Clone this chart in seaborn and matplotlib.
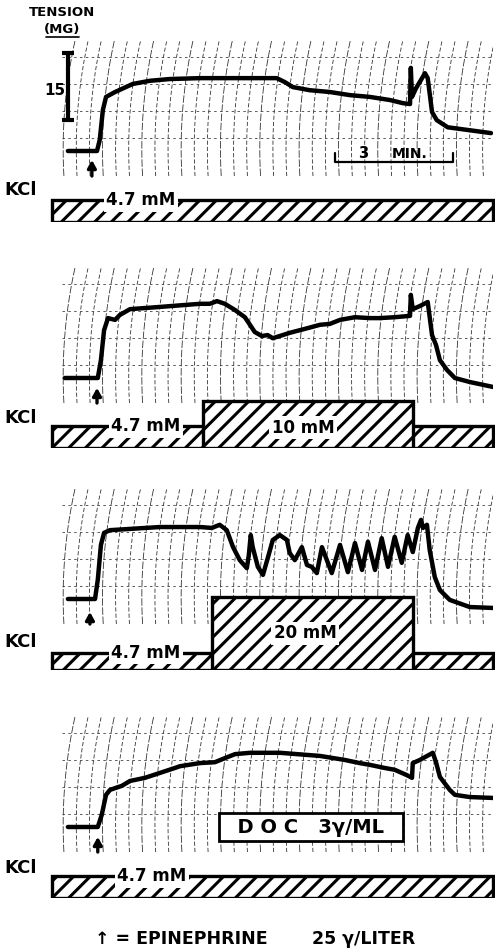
import numpy as np
import matplotlib
matplotlib.use('Agg')
import matplotlib.pyplot as plt
import seaborn as sns
from matplotlib.lines import Line2D

# time in minutes from the start of each record, tension in mg above resting level
time_1 = [0, 0.74, 0.81, 0.89, 0.97, 1.20, 1.65, 2.08, 2.59, 3.36, 4.37, 5.31, 5.52, 5.72, 6.15, 6.66,
          7.17, 7.68, 8.19, 8.52, 8.70, 8.72, 8.75, 8.85, 9.08, 9.15, 9.26, 9.38, 9.66, 10.17, 10.76]
tension_1 = [0, 0, 2.5, 9.2, 12.1, 13.2, 15.0, 15.7, 16.1, 16.3, 16.3, 16.3, 15.4, 14.3, 13.6, 13.2,
             12.5, 12.1, 11.4, 10.7, 10.5, 18.6, 12.1, 14.0, 17.4, 16.3, 8.7, 6.9, 5.3, 4.7, 4.0]

time_2 = [-0.08, 0.76, 0.84, 0.92, 1.02, 1.20, 1.32, 1.58, 2.34, 3.36, 3.61, 3.79, 3.99, 4.25, 4.50,
          4.63, 4.75, 4.93, 5.08, 5.21, 5.39, 5.64, 6.03, 6.41, 6.66, 6.92, 7.30, 7.68, 7.93, 8.31,
          8.70, 8.72, 8.77, 8.95, 9.15, 9.26, 9.36, 9.46, 9.64, 9.84, 10.22, 10.81]
tension_2 = [0, 0, 4.0, 10.7, 13.4, 13.0, 14.1, 15.4, 15.9, 16.6, 16.6, 17.2, 16.6, 15.2, 13.6,
             11.9, 10.3, 9.4, 9.6, 8.9, 9.4, 10.1, 11.0, 11.9, 12.1, 13.0, 13.6, 13.4, 13.4, 13.6,
             13.9, 18.6, 15.4, 16.1, 17.0, 9.6, 7.4, 4.0, 1.8, 0, -0.9, -2.0]

time_3 = [0, 0.69, 0.76, 0.84, 0.92, 1.07, 2.34, 3.36, 3.66, 3.86, 4.04, 4.20, 4.37, 4.55, 4.60,
          4.65, 4.70, 4.83, 4.96, 5.09, 5.21, 5.39, 5.57, 5.64, 5.77, 5.95, 6.08, 6.20, 6.33, 6.46,
          6.71, 6.92, 7.12, 7.30, 7.48, 7.63, 7.81, 7.98, 8.14, 8.31, 8.49, 8.64, 8.77, 8.90, 8.98,
          9.03, 9.13, 9.20, 9.33, 9.46, 9.71, 10.22, 10.81]
tension_3 = [0, 0, 4.3, 12.1, 14.8, 15.4, 16.1, 16.1, 15.9, 16.6, 15.4, 11.6, 8.7, 6.9, 9.8,
             14.3, 11.6, 7.2, 5.4, 9.4, 13.2, 14.3, 13.2, 10.3, 8.7, 11.6, 7.6, 7.2, 5.8, 11.6,
             5.8, 12.1, 6.0, 12.5, 6.5, 12.8, 6.5, 13.6, 7.2, 13.9, 8.1, 14.3, 10.5, 15.9, 17.7,
             15.9, 16.6, 11.0, 4.9, 2.0, -0.2, -1.8, -2.0]

time_4 = [0, 0.76, 0.86, 0.97, 1.07, 1.20, 1.37, 1.58, 1.96, 2.34, 2.72, 2.85, 3.36, 3.74, 3.99,
          4.25, 4.63, 5.39, 6.41, 7.04, 7.42, 7.68, 8.06, 8.31, 8.62, 8.75, 8.77, 8.95, 9.28, 9.36,
          9.46, 9.71, 9.84, 10.22, 10.81]
tension_4 = [0, 0, 2.7, 7.2, 8.3, 8.7, 9.2, 10.3, 11.0, 12.1, 13.2, 13.6, 14.3, 14.5, 15.4,
             16.3, 16.6, 16.6, 15.9, 15.0, 14.3, 13.9, 13.2, 12.8, 11.6, 11.0, 14.3, 15.0, 16.6, 14.5,
             11.2, 8.3, 7.2, 6.7, 6.5]

times = [time_1, time_2, time_3, time_4]
tensions = [tension_1, tension_2, tension_3, tension_4]

# epinephrine arrows (minutes, arrow tip in mg)
epi_time = [0.61, 0.74, 0.56, 0.76]
epi_tip = [-2.0, -2.2, -2.9, -2.2]

# KCl in the bath (mM)
kcl_base = 4.7
kcl_start, kcl_end = -0.41, 10.81
block_conc = [None, 10, 20, None]
block_start = [None, 3.43, 3.66, None]
block_end = [None, 8.77, 8.77, None]
base_label_t = [1.86, 1.98, 1.98, 2.14]
block_label = [None, '10 mM', '20 mM', None]
block_label_t = [None, 5.98, 6.03, None]
block_label_y = [None, 4.3, 10.1, None]

# calibration
scale_mg = 15
scale_mid = 14.4
time_bar_start = 6.79
time_bar_len = 3

# page layout (pixels)
W, H = 497, 950
PX_MIN = 39.33
PX_MG = 4.47
base_px = [151, 378, 599, 827]
kcl_bottom_px = [222, 448, 670, 898]
kcl_px_per_mm = [4.68, 4.68, 3.65, 4.68]
T_LIM = (-0.15, 10.81)
MG_LIM = (-5.6, 24.8)

sns.set_style('white')
plt.rcParams['font.family'] = ['DejaVu Sans']
plt.rcParams['text.color'] = 'black'
plt.rcParams['hatch.linewidth'] = 2.2
plt.rcParams['hatch.color'] = 'black'


def px_axes(fig, left, top, right, bottom, z):
    ax = fig.add_axes([left / W, 1 - bottom / H, (right - left) / W, (bottom - top) / H], zorder=z)
    ax.set_axis_off()
    ax.patch.set_visible(False)
    return ax


def chart_paper(ax):
    # curved pen-recorder rulings
    ys = np.linspace(MG_LIM[0], MG_LIM[1], 40)
    h = (ys - MG_LIM[0]) * PX_MG - 0.2 * (MG_LIM[1] - MG_LIM[0]) * PX_MG
    R = 500.0
    bend = (R - np.sqrt(R ** 2 - h ** 2)) / PX_MIN
    for k, xk in enumerate(np.arange(-0.12, 11.0, 1 / 3)):
        ls = (0, (5, 2.5)) if k % 3 else (0, (9, 2))
        ax.plot(xk + bend, ys, color='0.2', lw=0.6, ls=ls, zorder=0)
    for yk in [3, 9, 15, 21]:
        ax.axhline(yk, color='0.25', lw=0.6, ls=(0, (3, 4)), zorder=0)


fig = plt.figure(figsize=(W / 100, H / 100), dpi=100)
fig.patch.set_facecolor('white')

for i in range(4):
    b = base_px[i]
    ax = px_axes(fig, 62, b - MG_LIM[1] * PX_MG, 493, b - MG_LIM[0] * PX_MG, 1)
    ax.set_xlim(*T_LIM)
    ax.set_ylim(*MG_LIM)
    chart_paper(ax)
    sns.lineplot(x=times[i], y=tensions[i], ax=ax, color='black', lw=3.2,
                 sort=False, estimator=None, legend=False, zorder=3)
    ln = ax.lines[-1]
    ln.set_solid_joinstyle('round')
    ln.set_solid_capstyle('round')
    ax.annotate('', xy=(epi_time[i], epi_tip[i]), xytext=(epi_time[i], MG_LIM[0]),
                arrowprops=dict(arrowstyle='-|>,head_length=0.45,head_width=0.25', lw=2.4,
                                color='black', shrinkA=0, shrinkB=0), annotation_clip=False)

    if i == 0:
        ax.errorbar([0], [scale_mid], yerr=[scale_mg / 2], color='black', elinewidth=3,
                    capsize=4.5, capthick=3, zorder=4, clip_on=False)
        ax.text(-0.33, 13.6, '15', ha='center', va='center', fontsize=11, fontweight='bold')
        t0, t1 = time_bar_start, time_bar_start + time_bar_len
        ax.plot([t0, t0, t1, t1], [-0.4, -2.5, -2.5, -0.4], color='black', lw=1.6, zorder=4)
        ax.text(7.5, -2.3, '3', ha='center', va='bottom', fontsize=10.5, fontweight='bold')
        ax.text(8.7, -2.3, 'MIN.', ha='center', va='bottom', fontsize=10, fontweight='bold')
    if i == 3:
        ax.text(6.18, 0.0, '  D O C   3γ/ML  ', ha='center', va='center', fontsize=14,
                fontweight='bold', zorder=5,
                bbox=dict(boxstyle='square,pad=0.25', fc='white', ec='black', lw=2))

    # KCl bar under the record
    kb = kcl_bottom_px[i]
    s = kcl_px_per_mm[i]
    kx = px_axes(fig, 45, kb - 22 * s, 495, kb, 2)
    kx.set_xlim(T_LIM[0] - 17 / PX_MIN, T_LIM[1] + 2 / PX_MIN)
    kx.set_ylim(0, 22)
    kx.bar([kcl_start], [kcl_base], width=kcl_end - kcl_start, align='edge',
           color='white', edgecolor='black', hatch='//', lw=2.4)
    if block_conc[i] is not None:
        kx.bar([block_start[i]], [block_conc[i]], width=block_end[i] - block_start[i],
               align='edge', color='white', edgecolor='black', hatch='//', lw=2.4)
        kx.text(block_label_t[i], block_label_y[i], block_label[i], ha='center', va='center',
                fontsize=12, fontweight='bold',
                bbox=dict(boxstyle='square,pad=0.15', fc='white', ec='none'))
    kx.text(base_label_t[i], kcl_base, '4.7 mM', ha='center', va='center', fontsize=12,
            fontweight='bold', bbox=dict(boxstyle='square,pad=0.15', fc='white', ec='none'))

# KCl labels
for y in [190, 418, 642, 868]:
    fig.text(4 / W, 1 - y / H, 'KCl', ha='left', va='center', fontsize=13, fontweight='bold')

fig.text(62 / W, 1 - 12 / H, 'TENSION', ha='center', va='center', fontsize=9.5, fontweight='bold')
fig.text(62 / W, 1 - 30 / H, '(MG)', ha='center', va='center', fontsize=9.5, fontweight='bold')
fig.add_artist(Line2D([46 / W, 79 / W], [1 - 37 / H, 1 - 37 / H], color='black', lw=1.2))

fig.text(95 / W, 1 - 939 / H, '↑ = EPINEPHRINE', ha='left', va='center',
         fontsize=12.5, fontweight='bold')
fig.text(312 / W, 1 - 939 / H, '25 γ/LITER', ha='left', va='center',
         fontsize=12.5, fontweight='bold')

fig.savefig('out.png', dpi=100, facecolor='white')
